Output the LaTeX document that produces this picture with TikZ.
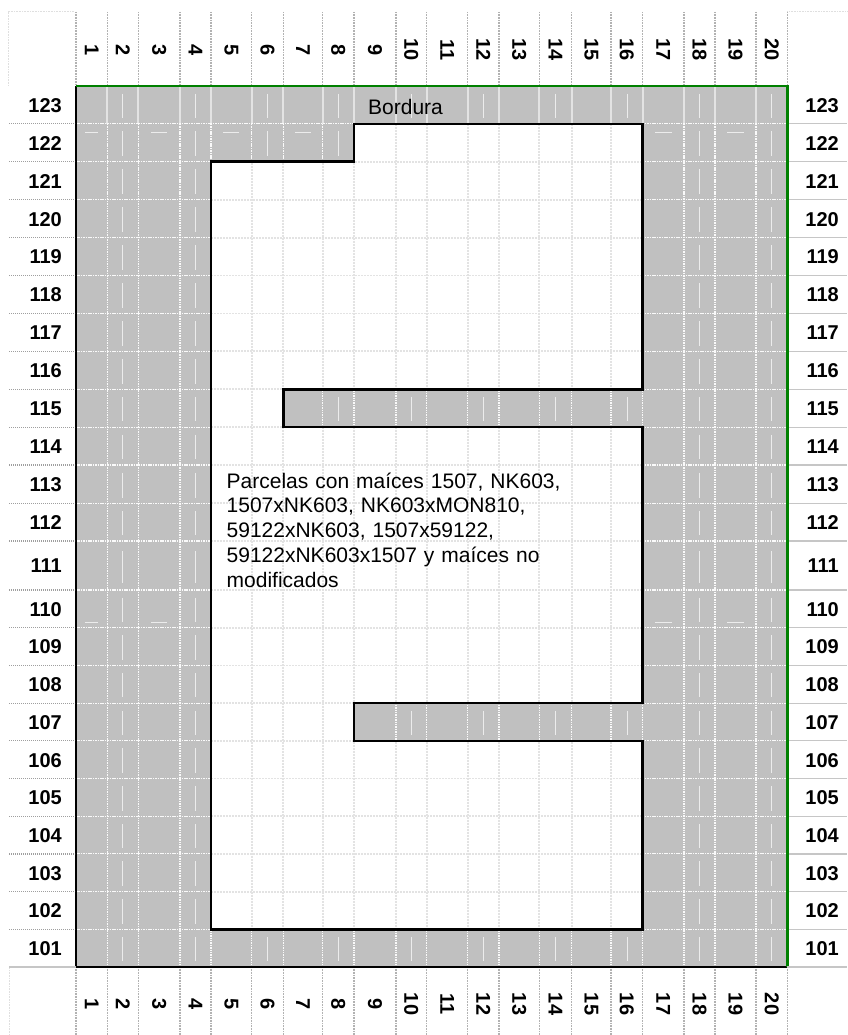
\documentclass[tikz,border=0pt]{standalone}
\usepackage{fontspec}
\setmainfont{Liberation Sans}
\definecolor{silverfill}{HTML}{C0C0C0}
\definecolor{bordergreen}{HTML}{008000}
\begin{document}
\begin{tikzpicture}[x=1pt,y=-1pt,
  graygrid/.style={white!92!silverfill,line width=1.1pt,dash pattern=on 1.5pt off 0.9pt},
  toprowgrid/.style={white!55!silverfill,line width=2pt},
  whitegrid/.style={gray!22,line width=1.8pt,dash pattern=on 2pt off 1pt},
  ghost/.style={white!70!silverfill,line width=0.7pt},
  plotline/.style={black,line width=2.6pt,line join=miter},
  headsep/.style={gray!60,line width=1.4pt,dash pattern=on 1pt off 0.6pt},
  boxline/.style={gray!25,line width=1pt,dash pattern=on 1pt off 0.6pt},
  leftsep/.style={gray!75,line width=1.2pt,dash pattern=on 1.2pt off 0.8pt},
  rightsep/.style={gray!45,line width=1.2pt},
  rowlab/.style={font=\fontsize{20}{24}\selectfont\bfseries,inner sep=0pt,anchor=east},
  collab/.style={font=\fontsize{20}{24}\selectfont\bfseries,inner sep=0pt,rotate=-90,anchor=center},
  plaintext/.style={font=\fontsize{21}{24.75}\selectfont,inner sep=0pt}
]
\useasboundingbox (0,0) rectangle (847,1035);

% ---------- gray field ----------
\fill[silverfill] (76,86) rectangle (787.3,967);

% ghost marks inside cells
\foreach \t/\b/\n in {86/123.9/123,123.9/161.8/122,161.8/199.7/121,199.7/237.6/120,237.6/275.5/119,275.5/313.4/118,313.4/351.3/117,351.3/389.2/116,389.2/427.1/115,427.1/465/114,465/503.3/113,503.3/541/112,541/590/111,590/627.7/110,627.7/665.4/109,665.4/703.1/108,703.1/740.8/107,740.8/778.5/106,778.5/816.2/105,816.2/853.9/104,853.9/891.6/103,891.6/929.3/102,929.3/967/101}{
  \foreach \l/\r [count=\c] in {76/107.3,107.3/138.3,138.3/180,180/211,211/251.7,251.7/283.3,283.3/322.7,322.7/354,354/396,396/426.7,426.7/467.7,467.7/499,499/539.3,539.3/571.7,571.7/611,611/642.7,642.7/684,684/715,715/756,756/787.3}{
    \ifodd\c\else
      \draw[ghost] ({(\l+\r)/2},{\t+0.2*(\b-\t)}) -- ({(\l+\r)/2},{\t+0.85*(\b-\t)});
    \fi
  }
}
\foreach \l/\r [count=\c] in {76/107.3,107.3/138.3,138.3/180,180/211,211/251.7,251.7/283.3,283.3/322.7,322.7/354,354/396,396/426.7,426.7/467.7,467.7/499,499/539.3,539.3/571.7,571.7/611,611/642.7,642.7/684,684/715,715/756,756/787.3}{
  \ifodd\c
    \draw[ghost] ({\l+0.3*(\r-\l)},132) -- ({\l+0.7*(\r-\l)},132);
    \draw[ghost] ({\l+0.3*(\r-\l)},622) -- ({\l+0.7*(\r-\l)},622);
  \fi
}

% gray-area grid lines
\foreach \x in {107.3,138.3,180,211,251.7,283.3,322.7,354,396,426.7,467.7,499,539.3,571.7,611,642.7,684,715,756}{
  \draw[toprowgrid] (\x,87) -- (\x,123.9);
  \draw[graygrid] (\x,123.9) -- (\x,967);
}
\foreach \y in {123.9,161.8,199.7,237.6,275.5,313.4,351.3,389.2,427.1,465,503.3,541,590,627.7,665.4,703.1,740.8,778.5,816.2,853.9,891.6,929.3}{
  \draw[graygrid] (76,\y) -- (787.3,\y);
}

% ---------- white plot area ----------
\def\plotpath{(354,123.9) -- (642.7,123.9) -- (642.7,389.2) -- (283.3,389.2) -- (283.3,427.1) -- (642.7,427.1) -- (642.7,703.1) -- (354,703.1) -- (354,740.8) -- (642.7,740.8) -- (642.7,929.3) -- (211,929.3) -- (211,161.8) -- (354,161.8) -- cycle}
\fill[white] \plotpath;
\begin{scope}
  \clip \plotpath;
  \foreach \x in {251.7,283.3,322.7,354,396,426.7,467.7,499,539.3,571.7,611}{
    \draw[whitegrid] (\x,123.9) -- (\x,929.3);
  }
  \foreach \y in {161.8,199.7,237.6,275.5,313.4,351.3,389.2,427.1,465,503.3,541,590,627.7,665.4,703.1,740.8,778.5,816.2,853.9,891.6}{
    \draw[whitegrid] (211,\y) -- (642.7,\y);
  }
\end{scope}
\draw[plotline] \plotpath;

% ---------- outer border ----------
\draw[black,line width=2.6pt] (76,86) -- (76,967) -- (787.3,967);
\draw[bordergreen,line width=2.6pt] (76,86) -- (787.3,86) -- (787.3,967);

% ---------- header / footer ----------
\draw[boxline] (8,86) -- (8,12) -- (74,12);
\draw[boxline] (787.3,12) -- (847,12);
\draw[boxline] (9,1035) -- (9,967);
\draw[gray!45,line width=1.2pt] (9,967) -- (76,967);
\draw[rightsep] (787.3,967) -- (847,967);
\foreach \x in {76,107.3,138.3,180,211,251.7,283.3,322.7,354,396,426.7,467.7,499,539.3,571.7,611,642.7,684,715,756,787.3}{
  \draw[headsep] (\x,12) -- (\x,84.5);
  \draw[headsep] (\x,968.5) -- (\x,1035);
}
\foreach \l/\r [count=\c] in {76/107.3,107.3/138.3,138.3/180,180/211,211/251.7,251.7/283.3,283.3/322.7,322.7/354,354/396,396/426.7,426.7/467.7,467.7/499,499/539.3,539.3/571.7,571.7/611,611/642.7,642.7/684,684/715,715/756,756/787.3}{
  \node[collab] (ct\c) at ({(\l+\r)/2},50) {\c};
  \node[collab] (cb\c) at ({(\l+\r)/2},1004) {\c};
}

% ---------- row labels ----------
\foreach \t/\b/\n in {86/123.9/123,123.9/161.8/122,161.8/199.7/121,199.7/237.6/120,237.6/275.5/119,275.5/313.4/118,313.4/351.3/117,351.3/389.2/116,389.2/427.1/115,427.1/465/114,465/503.3/113,503.3/541/112,541/590/111,590/627.7/110,627.7/665.4/109,665.4/703.1/108,703.1/740.8/107,740.8/778.5/106,778.5/816.2/105,816.2/853.9/104,853.9/891.6/103,891.6/929.3/102,929.3/967/101}{
  \node[rowlab] (rl\n) at (62,{(\t+\b)/2+0.5}) {\n};
  \node[rowlab] (rr\n) at (839,{(\t+\b)/2+0.5}) {\n};
}
\foreach \y in {123.9,161.8,199.7,237.6,275.5,313.4,351.3,389.2,427.1,465,503.3,541,590,627.7,665.4,703.1,740.8,778.5,816.2,853.9,891.6,929.3}{
  \draw[leftsep] (9,\y) -- (75,\y);
  \draw[rightsep] (789,\y) -- (847,\y);
}

% ---------- texts ----------
\node[plaintext,anchor=west] (bordura) at (368,106.8) {Bordura};
\node[plaintext,anchor=base west,text width=380pt,align=left] (parcelas) at (226.5,488)
  {Parcelas con maíces 1507, NK603,\\1507xNK603, NK603xMON810,\\59122xNK603, 1507x59122,\\59122xNK603x1507 y maíces no\\modificados};
\end{tikzpicture}
\end{document}
